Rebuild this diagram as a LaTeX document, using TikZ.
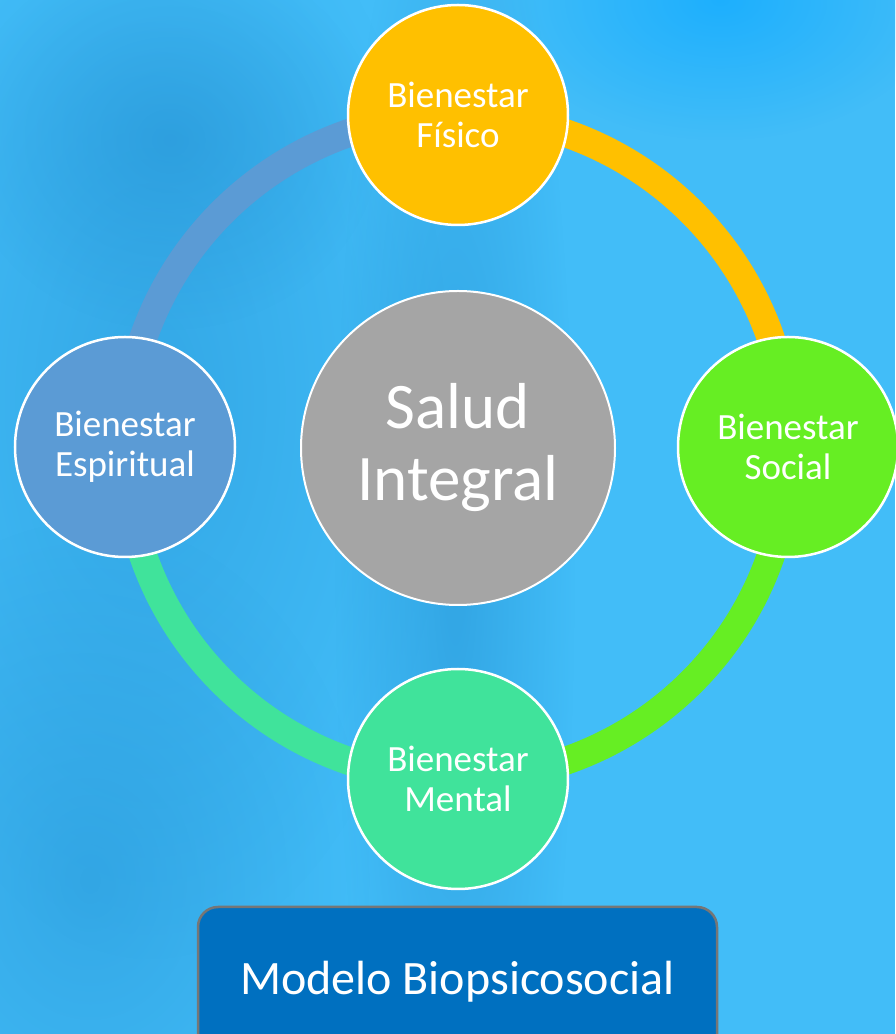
\documentclass[tikz,border=0pt]{standalone}
\usepackage{fontspec}
\setmainfont{Carlito}
\usetikzlibrary{fadings}
\definecolor{bgc}{RGB}{66,189,248}
\definecolor{bgdark}{RGB}{34,142,208}
\definecolor{bgbright}{RGB}{20,172,255}
\definecolor{fisc}{RGB}{255,192,0}
\definecolor{socc}{RGB}{102,238,35}
\definecolor{menc}{RGB}{64,227,155}
\definecolor{espc}{RGB}{91,155,213}
\definecolor{salc}{RGB}{165,165,165}
\definecolor{boxc}{RGB}{0,112,192}
\definecolor{boxborder}{RGB}{118,118,118}
\tikzfading[name=softblob, inner color=transparent!0, outer color=transparent!100]
\tikzset{
  sat/.style={circle, draw=white, line width=2.5pt, minimum size=220pt, inner sep=0pt,
    text=white, align=center, font=\fontsize{37}{40}\selectfont},
  mainc/.style={circle, draw=white, line width=2pt, fill=salc, minimum size=314pt, inner sep=0pt,
    text=white, align=center, font=\fontsize{65}{72}\selectfont},
  ringseg/.style={line width=28pt},
  blob/.style={fill=bgdark, path fading=softblob},
  modelbox/.style={rectangle, rounded corners=20pt, draw=boxborder, line width=2.5pt, fill=boxc,
    minimum width=519pt, minimum height=150pt, text=white, font=\fontsize{48}{52}\selectfont}
}
\begin{document}
\begin{tikzpicture}[x=1pt,y=1pt]
\useasboundingbox (0,0) rectangle (895,1034);
\fill[bgc] (0,0) rectangle (895,1034);
% soft background shapes
\fill[blob, opacity=0.45] (150,634) ellipse (300 and 560);
\fill[blob, opacity=0.5] (170,894) ellipse (210 and 190);
\fill[blob, opacity=0.5] (455,474) ellipse (120 and 760);
\fill[blob, opacity=0.45] (90,154) ellipse (280 and 360);
\fill[fill=bgbright, path fading=softblob, opacity=0.8] (720,1034) ellipse (220 and 140);
% ring
\coordinate (rc) at (457,587);
\draw[ringseg, espc] ([shift={(180:332)}]rc) arc (180:90:332);
\draw[ringseg, fisc] ([shift={(90:332)}]rc) arc (90:0:332);
\draw[ringseg, socc] ([shift={(0:332)}]rc) arc (0:-90:332);
\draw[ringseg, menc] ([shift={(-90:332)}]rc) arc (-90:-180:332);
% circles
\node[mainc] (salud) at (458,586) {Salud\\Integral};
\node[sat, fill=fisc] (fis) at (458,919) {Bienestar\\Físico};
\node[sat, fill=socc] (soc) at (788,587) {Bienestar\\Social};
\node[sat, fill=menc] (men) at (458,255) {Bienestar\\Mental};
\node[sat, fill=espc] (esp) at (125,587) {Bienestar\\Espiritual};
% bottom box
\node[modelbox] (modelo) at (457.5,52) {Modelo Biopsicosocial};
\end{tikzpicture}
\end{document}
